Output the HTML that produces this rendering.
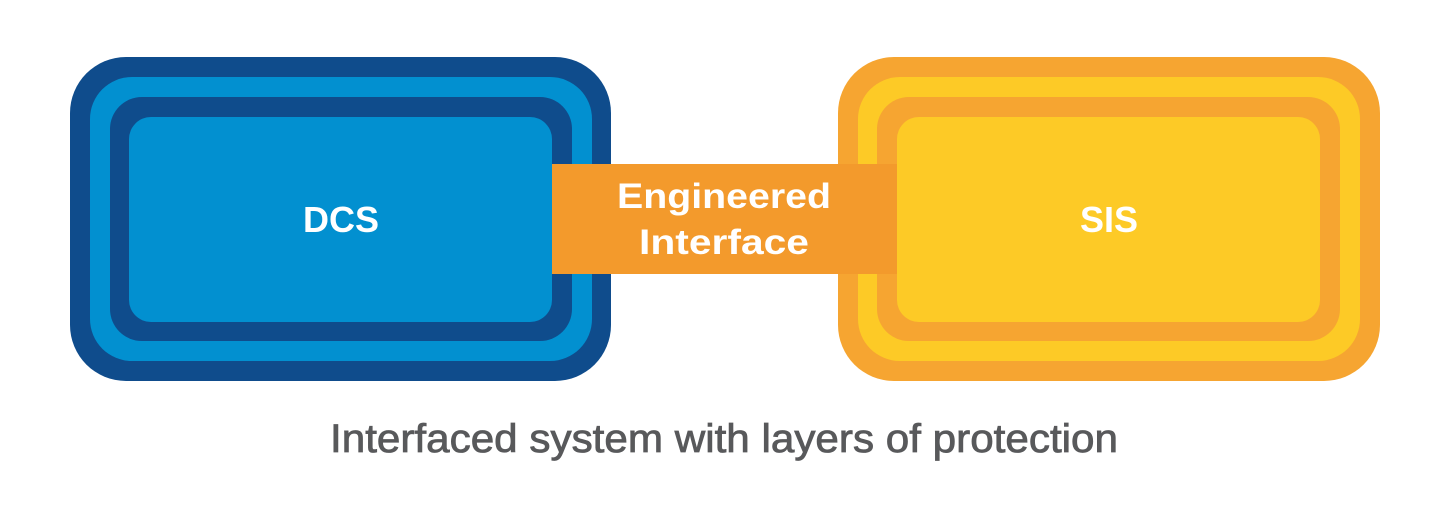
<!DOCTYPE html>
<html><head><meta charset="utf-8"><style>
html,body{margin:0;padding:0;background:#fff;}
svg{display:block;}
</style></head><body>
<svg width="1440" height="507" viewBox="0 0 1440 507" xmlns="http://www.w3.org/2000/svg">
<rect width="1440" height="507" fill="#fff"/>
<rect x="70" y="57" width="541" height="324" rx="56" fill="#0f4c8c"/>
<rect x="90" y="77" width="502" height="284" rx="42" fill="#0290d0"/>
<rect x="110" y="97" width="462" height="244" rx="32" fill="#0f4c8c"/>
<rect x="129" y="117" width="423" height="205" rx="22" fill="#0290d0"/>
<rect x="838" y="57" width="542" height="324" rx="56" fill="#f6a531"/>
<rect x="858" y="77" width="502" height="284" rx="42" fill="#fdca26"/>
<rect x="877" y="97" width="463" height="244" rx="32" fill="#f6a531"/>
<rect x="897" y="117" width="423" height="205" rx="22" fill="#fdca26"/>
<rect x="552" y="164" width="345" height="110" fill="#f39a2c"/>
<g font-family="'Liberation Sans', sans-serif" font-weight="bold" fill="#fff" text-anchor="middle">
<text x="341" y="232" font-size="36">DCS</text>
<text x="1109" y="232" font-size="36">SIS</text>
<text x="724" y="208" font-size="35" textLength="214" lengthAdjust="spacingAndGlyphs">Engineered</text>
<text x="724" y="254" font-size="35" textLength="170" lengthAdjust="spacingAndGlyphs">Interface</text>
</g>
<text x="330" y="452" font-family="'Liberation Sans', sans-serif" font-size="40" fill="#58595b" stroke="#58595b" stroke-width="0.8" textLength="788" lengthAdjust="spacingAndGlyphs">Interfaced system with layers of protection</text>
</svg>
</body></html>
